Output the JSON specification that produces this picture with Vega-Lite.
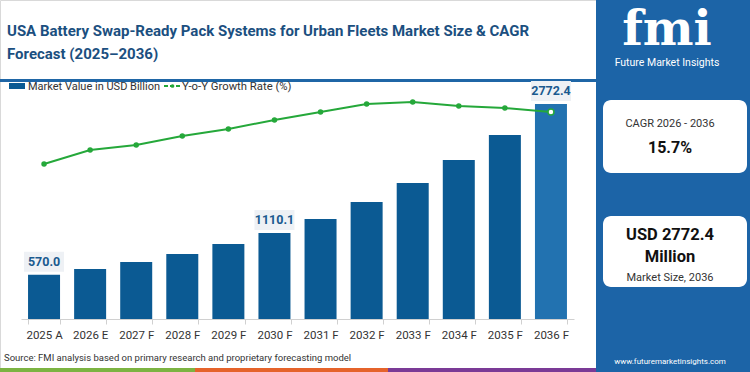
{
  "$schema": "https://vega.github.io/schema/vega-lite/v6.json",
  "width": 750,
  "height": 372,
  "autosize": "none",
  "padding": 0,
  "background": "white",
  "config": {"view": {"stroke": null}, "font": "Roboto"},
  "datasets": {
    "market": [
      {"year": "2025 A", "value": 570.0, "growth": 12.88},
      {"year": "2026 E", "value": 645, "growth": 14.0},
      {"year": "2027 F", "value": 735, "growth": 14.4},
      {"year": "2028 F", "value": 838, "growth": 15.12},
      {"year": "2029 F", "value": 967, "growth": 15.68},
      {"year": "2030 F", "value": 1110.1, "growth": 16.4},
      {"year": "2031 F", "value": 1289, "growth": 17.04},
      {"year": "2032 F", "value": 1508, "growth": 17.68},
      {"year": "2033 F", "value": 1753, "growth": 17.84},
      {"year": "2034 F", "value": 2050, "growth": 17.52},
      {"year": "2035 F", "value": 2372, "growth": 17.36},
      {"year": "2036 F", "value": 2772.4, "growth": 17.04}
    ],
    "one": [{}]
  },
  "layer": [
    {
      "data": {"name": "one"},
      "mark": {"type": "rect", "fill": "white", "stroke": "#d9d9d9", "strokeWidth": 1},
      "encoding": {"x": {"value": 0.5}, "x2": {"value": 597}, "y": {"value": 0.5}, "y2": {"value": 371.5}}
    },
    {
      "data": {"name": "one"},
      "mark": {"type": "rect", "fill": "#1f66a6"},
      "encoding": {"x": {"value": 0}, "x2": {"value": 598}, "y": {"value": 79}, "y2": {"value": 82}}
    },
    {
      "data": {"name": "one"},
      "mark": {"type": "rect", "fill": "#1c64a7"},
      "encoding": {"x": {"value": 596}, "x2": {"value": 750}, "y": {"value": 0}, "y2": {"value": 372}}
    },
    {
      "data": {"name": "one"},
      "mark": {"type": "text", "text": ["USA Battery Swap-Ready Pack Systems for Urban Fleets Market  Size & CAGR", "Forecast (2025\u20132036)"], "align": "left", "baseline": "alphabetic", "fontSize": 15, "fontWeight": "bold", "color": "#1b4f80", "lineHeight": 23},
      "encoding": {"x": {"value": 7}, "y": {"value": 36}}
    },
    {
      "data": {"name": "one"},
      "mark": {"type": "rect", "fill": "#0b5a93"},
      "encoding": {"x": {"value": 9}, "x2": {"value": 25}, "y": {"value": 83}, "y2": {"value": 89}}
    },
    {
      "data": {"name": "one"},
      "mark": {"type": "text", "text": "Market Value in USD Billion", "align": "left", "baseline": "middle", "fontSize": 11, "color": "#333333"},
      "encoding": {"x": {"value": 28}, "y": {"value": 86.5}}
    },
    {
      "data": {"name": "one"},
      "mark": {"type": "rule", "stroke": "#22a637", "strokeWidth": 2, "strokeDash": [4, 2]},
      "encoding": {"x": {"value": 164}, "x2": {"value": 181}, "y": {"value": 86}}
    },
    {
      "data": {"name": "one"},
      "mark": {"type": "circle", "fill": "#22a637", "size": 14, "opacity": 1},
      "encoding": {"x": {"value": 172.5}, "y": {"value": 86}}
    },
    {
      "data": {"name": "one"},
      "mark": {"type": "text", "text": "Y-o-Y Growth Rate (%)", "align": "left", "baseline": "middle", "fontSize": 11.3, "color": "#333333"},
      "encoding": {"x": {"value": 182}, "y": {"value": 86.5}}
    },
    {
      "data": {"name": "market"},
      "layer": [
        {
          "mark": {"type": "bar", "width": 32},
          "encoding": {
            "x": {"field": "year", "type": "nominal", "sort": null,
              "scale": {"range": [21, 574], "paddingInner": 0.3, "paddingOuter": 0.15},
              "axis": {"orient": "bottom", "offset": -53, "zindex": 1, "title": null, "tickBand": "extent", "domainColor": "#d0d0d0", "tickColor": "#d0d0d0", "tickSize": 5, "labelFontSize": 11.5, "labelColor": "#333333", "labelPadding": 5, "labelAngle": 0, "grid": false}},
            "y": {"field": "value", "type": "quantitative", "scale": {"domain": [0, 2772.4], "range": [319, 104], "nice": false, "zero": true}, "axis": null},
            "color": {"condition": {"test": "datum.year == '2036 F'", "value": "#2272b0"}, "value": "#0b5a93"}
          }
        },
        {
          "transform": [{"filter": "indexof(['2025 A','2030 F','2036 F'], datum.year) >= 0"}],
          "mark": {"type": "bar", "width": 40, "color": "#eef1f5", "yOffset": -23, "y2Offset": -3},
          "encoding": {
            "x": {"field": "year", "type": "nominal", "sort": null},
            "y": {"field": "value", "type": "quantitative", "axis": null},
            "y2": {"field": "value"}
          }
        },
        {
          "transform": [{"filter": "indexof(['2025 A','2030 F','2036 F'], datum.year) >= 0"}],
          "mark": {"type": "text", "fontSize": 12.5, "fontWeight": "bold", "color": "#1a5a8f", "dy": -13, "baseline": "middle"},
          "encoding": {
            "x": {"field": "year", "type": "nominal", "sort": null},
            "y": {"field": "value", "type": "quantitative", "axis": null},
            "text": {"field": "value", "type": "quantitative", "format": ".1f"}
          }
        }
      ]
    },
    {
      "data": {"name": "market"},
      "layer": [
        {
          "mark": {"type": "line", "color": "#25a83a", "strokeWidth": 2},
          "encoding": {
            "x": {"field": "year", "type": "nominal", "sort": null},
            "y": {"field": "growth", "type": "quantitative", "scale": {"domain": [10, 18], "range": [200, 100], "nice": false, "zero": false}, "axis": null}
          }
        },
        {
          "mark": {"type": "point", "filled": false, "strokeWidth": 1.5, "opacity": 1},
          "encoding": {
            "x": {"field": "year", "type": "nominal", "sort": null},
            "y": {"field": "growth", "type": "quantitative", "axis": null},
            "size": {"condition": {"test": "datum.year == '2036 F'", "value": 36}, "value": 16},
            "fill": {"condition": {"test": "datum.year == '2036 F'", "value": "white"}, "value": "#25a83a"},
            "stroke": {"value": "#25a83a"}
          }
        }
      ]
    },
    {
      "data": {"name": "one"},
      "mark": {"type": "text", "text": "Source: FMI analysis based on primary research and proprietary forecasting model", "align": "left", "baseline": "middle", "fontSize": 9.5, "color": "#333333"},
      "encoding": {"x": {"value": 4}, "y": {"value": 358}}
    },
    {
      "data": {"name": "one"},
      "mark": {"type": "rect", "fill": "#7cb342"},
      "encoding": {"x": {"value": 0}, "x2": {"value": 195}, "y": {"value": 368}, "y2": {"value": 372}}
    },
    {
      "data": {"name": "one"},
      "mark": {"type": "rect", "fill": "#e5632b"},
      "encoding": {"x": {"value": 195}, "x2": {"value": 388}, "y": {"value": 368}, "y2": {"value": 372}}
    },
    {
      "data": {"name": "one"},
      "mark": {"type": "rect", "fill": "#7b3a96"},
      "encoding": {"x": {"value": 388}, "x2": {"value": 596}, "y": {"value": 368}, "y2": {"value": 372}}
    },
    {
      "data": {"name": "one"},
      "mark": {"type": "text", "text": "fmi", "align": "center", "baseline": "alphabetic", "fontSize": 48, "fontWeight": "bold", "font": "DejaVu Serif", "color": "white"},
      "encoding": {"x": {"value": 667}, "y": {"value": 45}}
    },
    {
      "data": {"name": "one"},
      "mark": {"type": "text", "text": "Future Market Insights", "align": "center", "baseline": "middle", "fontSize": 10.5, "color": "white"},
      "encoding": {"x": {"value": 667}, "y": {"value": 63}}
    },
    {
      "data": {"name": "one"},
      "mark": {"type": "rect", "fill": "white", "cornerRadius": 8},
      "encoding": {"x": {"value": 603}, "x2": {"value": 747}, "y": {"value": 100}, "y2": {"value": 173}}
    },
    {
      "data": {"name": "one"},
      "mark": {"type": "text", "text": "CAGR 2026 - 2036", "align": "center", "baseline": "middle", "fontSize": 11, "color": "#333333"},
      "encoding": {"x": {"value": 670}, "y": {"value": 124}}
    },
    {
      "data": {"name": "one"},
      "mark": {"type": "text", "text": "15.7%", "align": "center", "baseline": "middle", "fontSize": 16, "fontWeight": "bold", "color": "#111111"},
      "encoding": {"x": {"value": 670}, "y": {"value": 148}}
    },
    {
      "data": {"name": "one"},
      "mark": {"type": "rect", "fill": "white", "cornerRadius": 8},
      "encoding": {"x": {"value": 603}, "x2": {"value": 747}, "y": {"value": 216}, "y2": {"value": 287}}
    },
    {
      "data": {"name": "one"},
      "mark": {"type": "text", "text": "USD 2772.4", "align": "center", "baseline": "middle", "fontSize": 16.5, "fontWeight": "bold", "color": "#111111"},
      "encoding": {"x": {"value": 670}, "y": {"value": 235}}
    },
    {
      "data": {"name": "one"},
      "mark": {"type": "text", "text": "Million", "align": "center", "baseline": "middle", "fontSize": 16.5, "fontWeight": "bold", "color": "#111111"},
      "encoding": {"x": {"value": 670}, "y": {"value": 257}}
    },
    {
      "data": {"name": "one"},
      "mark": {"type": "text", "text": "Market Size, 2036", "align": "center", "baseline": "middle", "fontSize": 11, "color": "#333333"},
      "encoding": {"x": {"value": 670}, "y": {"value": 278}}
    },
    {
      "data": {"name": "one"},
      "mark": {"type": "text", "text": "www.futuremarketinsights.com", "align": "center", "baseline": "middle", "fontSize": 8, "color": "white"},
      "encoding": {"x": {"value": 670}, "y": {"value": 362}}
    }
  ],
  "resolve": {"scale": {"y": "independent"}}
}
